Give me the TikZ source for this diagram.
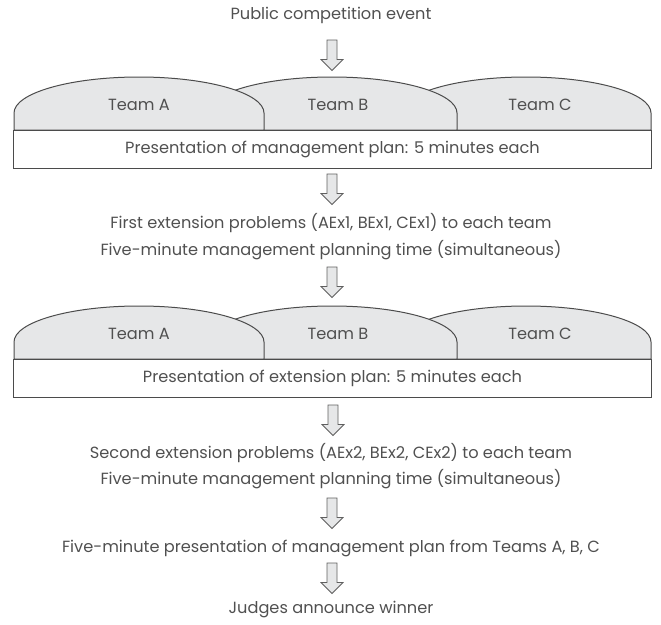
\documentclass[tikz,border=0pt]{standalone}
\usepackage{fontspec}
\setmainfont{Poppins}
\definecolor{txt}{RGB}{80,80,80}
\definecolor{edge}{RGB}{75,75,75}
\definecolor{aedge}{RGB}{95,95,95}
\definecolor{tabfill}{RGB}{230,231,232}
\newcommand\teamtab[2]{\draw[tabshape] (#1-125,#2) -- (#1-125,#2-17) arc[start angle=180,end angle=0,x radius=125pt,y radius=36pt] -- (#1+125,#2) -- cycle;}
% block arrow: name, x centre, y top
\newcommand\blockarrow[3]{\coordinate (#1) at (#2,#3);
  \draw[barrow] (#1) ++(-5,0) -- ++(0,19.5) -- ++(-6,0) -- ++(11,11) -- ++(11,-11) -- ++(-6,0) -- ++(0,-19.5) -- cycle;}
\begin{document}
\begin{tikzpicture}[x=1pt,y=-1pt,
  lbl/.style={font=\fontsize{16.2}{19}\selectfont, text=txt, inner sep=0pt},
  barrow/.style={draw=aedge, fill=tabfill, line width=0.8pt, line join=miter},
  tabshape/.style={draw=edge, fill=tabfill, line width=1pt},
  planbox/.style={lbl, draw=edge, line width=1pt, minimum width=638pt, minimum height=38pt}]
\useasboundingbox (0,0) rectangle (661,624);

\node[lbl] (title) at (331,15) {Public competition event};
\blockarrow{a1}{332}{40}

\teamtab{526}{130}
\teamtab{332}{130}
\teamtab{139}{130}
\node[lbl] (ta1) at (139,105) {Team A};
\node[lbl] (tb1) at (338,105) {Team B};
\node[lbl] (tc1) at (540,105) {Team C};
\node[planbox] (p1) at (332.5,149) {Presentation of management plan: 5 minutes each};

\blockarrow{a2}{332}{174}
\node[lbl] (f1) at (331,223) {First extension problems (AEx1, BEx1, CEx1) to each team};
\node[lbl] (f2) at (331,250) {Five-minute management planning time (simultaneous)};
\blockarrow{a3}{332}{267}

\teamtab{526}{359}
\teamtab{332}{359}
\teamtab{139}{359}
\node[lbl] (ta2) at (139,334) {Team A};
\node[lbl] (tb2) at (338,334) {Team B};
\node[lbl] (tc2) at (540,334) {Team C};
\node[planbox] (p2) at (332.5,378) {Presentation of extension plan: 5 minutes each};

\blockarrow{a4}{333}{405}
\node[lbl] (s1) at (331,453) {Second extension problems (AEx2, BEx2, CEx2) to each team};
\node[lbl] (s2) at (331,479) {Five-minute management planning time (simultaneous)};
\blockarrow{a5}{332}{498}
\node[lbl] (fp) at (331,548) {Five-minute presentation of management plan from Teams A, B, C};
\blockarrow{a6}{332}{563}
\node[lbl] (judge) at (331,610) {Judges announce winner};
\end{tikzpicture}
\end{document}
